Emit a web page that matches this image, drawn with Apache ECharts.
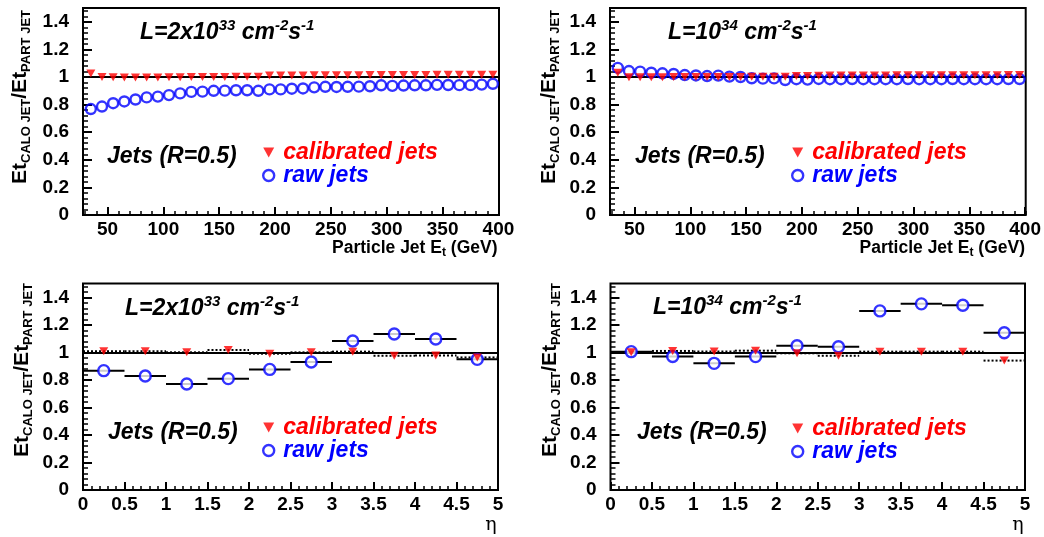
<!DOCTYPE html>
<html><head><meta charset="utf-8">
<script src="https://cdn.jsdelivr.net/npm/echarts@6/dist/echarts.min.js"></script>
<style>html,body{margin:0;padding:0;background:#fff}#c{width:1044px;height:537px}</style>
</head><body><div id="c"></div>
<script>
// ---------- data ----------
const etBins = [35,45,55,65,75,85,95,105,115,125,135,145,155,165,175,185,195,205,215,225,235,245,255,265,275,285,295,305,315,325,335,345,355,365,375,385,395];
const tlRaw = [0.768,0.786,0.810,0.823,0.837,0.852,0.858,0.869,0.881,0.892,0.894,0.900,0.901,0.904,0.904,0.900,0.910,0.910,0.915,0.917,0.925,0.929,0.928,0.929,0.930,0.933,0.940,0.936,0.938,0.940,0.940,0.943,0.942,0.941,0.941,0.945,0.951];
const tlCal = [1.025,1.000,0.998,0.997,0.997,0.997,0.997,0.998,0.998,1.000,1.000,1.000,1.000,1.001,1.002,1.002,1.010,1.010,1.011,1.011,1.012,1.013,1.013,1.013,1.013,1.014,1.014,1.015,1.015,1.015,1.015,1.016,1.016,1.016,1.016,1.017,1.017];
const trRaw = [1.066,1.043,1.039,1.031,1.027,1.022,1.014,1.011,1.007,1.010,1.003,1.000,0.991,0.988,0.990,0.978,0.984,0.981,0.986,0.984,0.984,0.985,0.984,0.984,0.984,0.984,0.985,0.984,0.984,0.984,0.985,0.984,0.984,0.984,0.984,0.985,0.985];
const trCal = [1.030,0.998,0.998,0.998,0.999,1.000,1.000,1.000,1.000,1.000,1.000,1.000,1.002,1.002,1.002,1.002,1.008,1.008,1.009,1.010,1.010,1.011,1.011,1.011,1.011,1.012,1.012,1.012,1.012,1.012,1.012,1.012,1.012,1.013,1.013,1.014,1.014];

const etaBins = [0.25,0.75,1.25,1.75,2.25,2.75,3.25,3.75,4.25,4.75];
const etaHalfWidth = 0.25;
const blRaw = [0.867,0.828,0.770,0.809,0.876,0.930,1.082,1.133,1.097,0.949];
const blCal = [1.008,1.008,1.000,1.017,0.990,1.000,1.005,0.975,0.977,0.963];
const brRaw = [1.005,0.970,0.920,0.969,1.048,1.041,1.301,1.352,1.342,1.142];
const brCal = [1.000,1.010,1.006,1.012,0.993,0.975,1.005,1.005,1.005,0.940];

const etTickLabels = [50,100,150,200,250,300,350,400];
const etaTickLabels = [0,0.5,1,1.5,2,2.5,3,3.5,4,4.5,5];
const yTickLabels = [0,0.2,0.4,0.6,0.8,1,1.2,1.4];
const refLine = 1;

// minor tick positions (axis decoration)
const etMinor = []; for (let v = 30; v <= 400; v += 10) etMinor.push(v);
const etaMinor = []; for (let i = 0; i <= 50; i++) etaMinor.push(+(i * 0.1).toFixed(2));
const yMinor = []; for (let i = 0; i <= 37; i++) yMinor.push(+(i * 0.04).toFixed(2));

// ---------- style ----------
const FONT = "'Liberation Sans', Arial, Helvetica, sans-serif";
const RED = '#ff0000', BLUE = '#0000ff';
const panels = [
  {rect:{left:83, top:8, width:416, height:207}, x:[28,400.5], xl:etTickLabels, xm:etMinor, raw:tlRaw, cal:tlCal, xs:etBins, eta:false},
  {rect:{left:610, top:8, width:416, height:207}, x:[28,400.5], xl:etTickLabels, xm:etMinor, raw:trRaw, cal:trCal, xs:etBins, eta:false},
  {rect:{left:83, top:283.5, width:415, height:206.5}, x:[0,5], xl:etaTickLabels, xm:etaMinor, raw:blRaw, cal:blCal, xs:etaBins, eta:true},
  {rect:{left:610.5, top:283.5, width:414.5, height:206.5}, x:[0,5], xl:etaTickLabels, xm:etaMinor, raw:brRaw, cal:brCal, xs:etaBins, eta:true}
];

const grid = [], xAxis = [], yAxis = [], series = [];
const labelStyle = {color:'#000', fontFamily:FONT, fontWeight:'bold', fontSize:19};
panels.forEach((p, i) => {
  grid.push(Object.assign({show:true, borderColor:'#000', borderWidth:2, backgroundColor:'transparent'}, p.rect));
  grid.push(Object.assign({show:false}, p.rect));
  const gMain = 2*i, gMinor = 2*i+1;
  xAxis.push({type:'value', gridIndex:gMain, min:p.x[0], max:p.x[1], position:'bottom',
    axisLine:{show:false}, splitLine:{show:false},
    axisTick:{show:true, inside:true, length:8, customValues:p.xl, lineStyle:{color:'#000', width:2}},
    axisLabel:Object.assign({margin:5, customValues:p.xl, showMinLabel:true, showMaxLabel:true}, labelStyle)});
  xAxis.push({type:'value', gridIndex:gMinor, min:p.x[0], max:p.x[1], position:'bottom',
    axisLine:{show:false}, splitLine:{show:false}, axisLabel:{show:false},
    axisTick:{show:true, inside:true, length:4, customValues:p.xm, lineStyle:{color:'#000', width:1.5}}});
  yAxis.push({type:'value', gridIndex:gMain, min:0, max:1.5, position:'left',
    axisLine:{show:false}, splitLine:{show:false},
    axisTick:{show:true, inside:true, length:9, customValues:yTickLabels, lineStyle:{color:'#000', width:2}},
    axisLabel:Object.assign({margin:14, customValues:yTickLabels}, labelStyle)});
  yAxis.push({type:'value', gridIndex:gMinor, min:0, max:1.5, position:'left',
    axisLine:{show:false}, splitLine:{show:false}, axisLabel:{show:false},
    axisTick:{show:true, inside:true, length:5, customValues:yMinor, lineStyle:{color:'#000', width:1.5}}});

  const xi = gMain, yi = gMain;
  const rawData = p.xs.map((x, k) => [x, p.raw[k]]);
  const calData = p.xs.map((x, k) => [x, p.cal[k]]);
  if (p.eta) {
    const bar = (dashed) => (params, api) => {
      const x = api.value(0), y = api.value(1);
      const a = api.coord([x - etaHalfWidth, y]), b = api.coord([x + etaHalfWidth, y]);
      return {type:'line', shape:{x1:a[0], y1:a[1], x2:b[0], y2:b[1]},
        style:{stroke:'#000', lineWidth:2, lineDash: dashed ? [2,2] : null}};
    };
    series.push({type:'custom', name:'calbar'+i, xAxisIndex:xi, yAxisIndex:yi, data:calData, renderItem:bar(true), z:2, silent:true});
    series.push({type:'custom', name:'rawbar'+i, xAxisIndex:xi, yAxisIndex:yi, data:rawData, renderItem:bar(false), z:2, silent:true});
  }
  series.push({type:'scatter', name:'raw jets', xAxisIndex:xi, yAxisIndex:yi, data:rawData,
    symbol:'circle', symbolSize: p.eta ? 11 : 10, z:3,
    itemStyle:{color: p.eta ? '#fff' : 'rgba(0,0,0,0)', borderColor:BLUE, borderWidth:2.4},
    markLine:{silent:true, symbol:'none', label:{show:false}, z:1,
      lineStyle:{color:'#000', width:1.8, type:'solid'}, data:[{yAxis:refLine}]}});
  series.push({type:'scatter', name:'calibrated jets', xAxisIndex:xi, yAxisIndex:yi, data:calData,
    symbol:'triangle', symbolRotate:180, symbolSize:[9,8], z:4,
    itemStyle:{color:RED}});
});

// ---------- legends ----------
const legendPos = [
  {left:262, top:141}, {left:791, top:141}, {left:262, top:416}, {left:791, top:417}
];
const legend = legendPos.map(pos => ({
  left:pos.left, top:pos.top, orient:'vertical', itemWidth:11, itemHeight:11, itemGap:0,
  padding:0, selectedMode:false,
  textStyle:{fontFamily:FONT, fontWeight:'bold', fontStyle:'italic', fontSize:23, lineHeight:22, padding:[0,0,0,4]},
  data:[
    {name:'calibrated jets', icon:'path://M0,0L10,0L5,9Z', itemStyle:{color:RED, borderWidth:0}, textStyle:{color:RED}},
    {name:'raw jets', icon:'circle', itemStyle:{color:'#fff', borderColor:BLUE, borderWidth:2.4}, textStyle:{color:BLUE}}
  ]
}));

// ---------- text annotations ----------
const annFont = {fontFamily:FONT, fontWeight:'bold', fontStyle:'italic', fontSize:23};
function txt(x, y, text, extra) {
  return {type:'text', x:x, y:y, z:100, style:Object.assign({text:text, fill:'#000',
    align:'left', verticalAlign:'middle'}, annFont, extra || {})};
}
const supRich = {sup:{fontFamily:FONT, fontWeight:'bold', fontStyle:'italic', fontSize:15, verticalAlign:'top', lineHeight:15}};
const lumA = 'L=2x10{sup|33} cm{sup|-2}s{sup|-1}';
const lumB = 'L=10{sup|34} cm{sup|-2}s{sup|-1}';
const ytitle = 'Et{sub|CALO JET}/Et{sub|PART JET}';
const subRich = {sub:{fontFamily:FONT, fontWeight:'bold', fontSize:13, verticalAlign:'bottom', lineHeight:12}};
function yTitle(x, y) {
  return {type:'text', x:x, y:y, rotation:Math.PI/2, z:100,
    style:{text:ytitle, fill:'#000', fontFamily:FONT, fontWeight:'bold', fontSize:21, lineHeight:26,
      align:'center', verticalAlign:'middle', rich:subRich}};
}
const xsubRich = {sub:{fontFamily:FONT, fontWeight:'bold', fontSize:12, verticalAlign:'bottom', lineHeight:12}};
function xTitle(x, y) {
  return {type:'text', x:x, y:y, z:100,
    style:{text:'Particle Jet E{sub|t} (GeV)', fill:'#000', fontFamily:FONT, fontWeight:'bold', fontSize:17.5, lineHeight:22,
      align:'right', verticalAlign:'middle', rich:xsubRich}};
}
function etaTitle(x, y) {
  return {type:'text', x:x, y:y, z:100,
    style:{text:'η', fill:'#000', fontFamily:"'DejaVu Serif', serif", fontSize:19, align:'center', verticalAlign:'middle'}};
}
const graphic = [
  txt(140, 33, lumA, {rich:supRich, lineHeight:30}),
  txt(668, 33, lumB, {rich:supRich, lineHeight:30}),
  txt(125, 309, lumA, {rich:supRich, lineHeight:30}),
  txt(653, 308, lumB, {rich:supRich, lineHeight:30}),
  txt(107, 157, 'Jets (R=0.5)'),
  txt(635, 157, 'Jets (R=0.5)'),
  txt(108, 433, 'Jets (R=0.5)'),
  txt(637, 433, 'Jets (R=0.5)'),
  yTitle(20, 97), yTitle(549, 97), yTitle(22, 370), yTitle(550, 370),
  xTitle(497.5, 248), xTitle(1025, 248),
  etaTitle(491, 525), etaTitle(1018, 525)
];

const chart = echarts.init(document.getElementById('c'), null, {renderer:'canvas'});
chart.setOption({animation:false, backgroundColor:'#fff', grid, xAxis, yAxis, series, legend, graphic});
</script></body></html>
